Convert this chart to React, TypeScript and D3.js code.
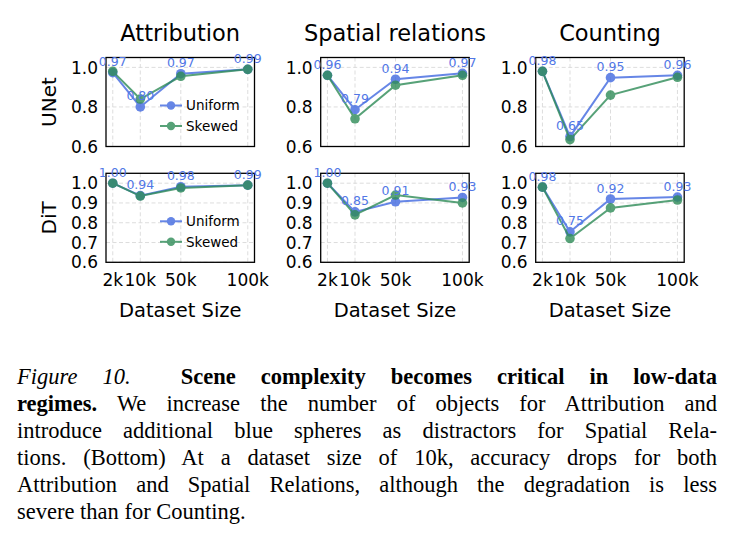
import React, { useLayoutEffect, useRef } from "react";
import * as d3 from "d3";

// ---- data ----
const COL_TITLES = ["Attribution", "Spatial relations", "Counting"];
const ROW_TITLES = ["UNet", "DiT"];
const X_LABELS = ["2k", "10k", "50k", "100k"];
const X_POS = [2, 22, 51.4, 100];
const SERIES = ["Uniform", "Skewed"];

const unetAttrUniform = [0.973, 0.8, 0.968, 0.99];
const unetAttrSkewed = [0.98, 0.84, 0.955, 0.99];
const unetSpatUniform = [0.96, 0.786, 0.94, 0.97];
const unetSpatSkewed = [0.96, 0.74, 0.91, 0.96];
const unetCountUniform = [0.98, 0.65, 0.948, 0.96];
const unetCountSkewed = [0.98, 0.635, 0.86, 0.95];
const ditAttrUniform = [1.0, 0.937, 0.982, 0.99];
const ditAttrSkewed = [1.0, 0.935, 0.976, 0.99];
const ditSpatUniform = [1.0, 0.855, 0.906, 0.928];
const ditSpatSkewed = [1.0, 0.84, 0.94, 0.9];
const ditCountUniform = [0.98, 0.754, 0.92, 0.93];
const ditCountSkewed = [0.98, 0.72, 0.875, 0.915];

const TOP_TICKS = [0.6, 0.8, 1.0];
const BOTTOM_TICKS = [0.6, 0.7, 0.8, 0.9, 1.0];

const CAPTION = [
  { parts: [{ t: "Figure 10.", s: "italic" }, { t: "  " }, { t: "Scene complexity becomes critical in low-data", s: "bold" }], justify: true },
  { parts: [{ t: "regimes.", s: "bold" }, { t: " We increase the number of objects for Attribution and" }], justify: true },
  { parts: [{ t: "introduce additional blue spheres as distractors for Spatial Rela-" }], justify: true },
  { parts: [{ t: "tions. (Bottom) At a dataset size of 10k, accuracy drops for both" }], justify: true },
  { parts: [{ t: "Attribution and Spatial Relations, although the degradation is less" }], justify: true },
  { parts: [{ t: "severe than for Counting." }], justify: false },
];

const PANELS = [
  [
    [unetAttrUniform, unetAttrSkewed],
    [unetSpatUniform, unetSpatSkewed],
    [unetCountUniform, unetCountSkewed],
  ],
  [
    [ditAttrUniform, ditAttrSkewed],
    [ditSpatUniform, ditSpatSkewed],
    [ditCountUniform, ditCountSkewed],
  ],
];

// ---- layout ----
const W = 739;
const H = 555;
const PANEL_LEFT = [106, 320.7, 535.7];
const PANEL_W = 148.5;
const PANEL_TOP = [57.5, 173.3];
const PANEL_H = 89;
const COLORS = ["#4169e1", "#2e8b57"];
const LABEL_COLOR = "#5177e6";
const SANS = "'DejaVu Sans', sans-serif";
const SERIF = "'Liberation Serif', 'Times New Roman', serif";
const CAP_LEFT = 17;
const CAP_RIGHT = 717;
const CAP_TOP = 384;
const CAP_STEP = 27;
const CAP_SIZE = 22.5;

function Panel({ row, col }: { row: number; col: number }) {
  const left = PANEL_LEFT[col];
  const top = PANEL_TOP[row];
  const x = d3.scaleLinear().domain([-2.9, 104.9]).range([left, left + PANEL_W]);
  const y = d3.scaleLinear().domain([0.6, 1.05]).range([top + PANEL_H, top]);
  const ticks = row === 0 ? TOP_TICKS : BOTTOM_TICKS;
  const data = PANELS[row][col];
  const line = d3
    .line<number>()
    .x((_, i) => x(X_POS[i]))
    .y((v) => y(v));
  return (
    <g>
      {ticks.map((t) => (
        <line key={"gy" + t} x1={left} x2={left + PANEL_W} y1={y(t)} y2={y(t)} stroke="#d9d9d9" strokeWidth={0.9} strokeDasharray="4,2.5" />
      ))}
      {X_POS.map((p, i) => (
        <line key={"gx" + i} x1={x(p)} x2={x(p)} y1={top} y2={top + PANEL_H} stroke="#d9d9d9" strokeWidth={0.9} strokeDasharray="4,2.5" />
      ))}
      {data.map((vals, si) => (
        <g key={si} opacity={0.8}>
          <path d={line(vals) || ""} fill="none" stroke={COLORS[si]} strokeWidth={2} />
          {vals.map((v, i) => (
            <circle key={i} cx={x(X_POS[i])} cy={y(v)} r={4.8} fill={COLORS[si]} />
          ))}
        </g>
      ))}
      <rect x={left} y={top} width={PANEL_W} height={PANEL_H} fill="none" stroke="#000" strokeWidth={1.3} />
      {data[0].map((v, i) => (
        <text key={"lb" + i} x={x(X_POS[i])} y={y(v) - 6.5} textAnchor="middle" fontFamily={SANS} fontSize={12.5} fill={LABEL_COLOR}>
          {v.toFixed(2)}
        </text>
      ))}
      {ticks.map((t) => (
        <text key={"ty" + t} x={left - 8} y={y(t)} dy="0.36em" textAnchor="end" fontFamily={SANS} fontSize={17} fill="#000">
          {t.toFixed(1)}
        </text>
      ))}
      {row === 0 && (
        <text x={left + PANEL_W / 2} y={41} textAnchor="middle" fontFamily={SANS} fontSize={22.5} fill="#000">
          {COL_TITLES[col]}
        </text>
      )}
      {row === 1 &&
        X_LABELS.map((lab, i) => (
          <text key={"tx" + i} x={x(X_POS[i])} y={top + PANEL_H + 24} textAnchor="middle" fontFamily={SANS} fontSize={17} fill="#000">
            {lab}
          </text>
        ))}
      {row === 1 && (
        <text x={left + PANEL_W / 2} y={317} textAnchor="middle" fontFamily={SANS} fontSize={19.5} fill="#000">
          Dataset Size
        </text>
      )}
      {col === 0 && (
        <text
          transform={`translate(${56},${top + PANEL_H / 2}) rotate(-90)`}
          textAnchor="middle"
          fontFamily={SANS}
          fontSize={20}
          fill="#000"
        >
          {ROW_TITLES[row]}
        </text>
      )}
      {col === 0 &&
        SERIES.map((s, si) => {
          const ly = top + 48 + si * 20.5;
          return (
            <g key={s}>
              <g opacity={0.8}>
                <line x1={left + 54} x2={left + 76} y1={ly} y2={ly} stroke={COLORS[si]} strokeWidth={2} />
                <circle cx={left + 65} cy={ly} r={4.2} fill={COLORS[si]} />
              </g>
              <text x={left + 80} y={ly} dy="0.36em" fontFamily={SANS} fontSize={13.5} fill="#000">
                {s}
              </text>
            </g>
          );
        })}
    </g>
  );
}

export default function App() {
  const capRefs = useRef<(SVGTextElement | null)[]>([]);
  useLayoutEffect(() => {
    CAPTION.forEach((ln, i) => {
      const el = capRefs.current[i];
      if (!el || !ln.justify) return;
      el.style.wordSpacing = "0px";
      const natural = el.getComputedTextLength();
      const text = ln.parts.map((p) => p.t).join("");
      const spaces = (text.match(/ /g) || []).length;
      if (spaces > 0) {
        const extra = (CAP_RIGHT - CAP_LEFT - natural) / spaces;
        el.style.wordSpacing = `${extra}px`;
      }
    });
  }, []);
  return (
    <svg width={W} height={H} style={{ position: "absolute", left: 0, top: 0, background: "#fff" }}>
      <rect x={0} y={0} width={W} height={H} fill="#fff" />
      {[0, 1].map((r) => [0, 1, 2].map((c) => <Panel key={`${r}-${c}`} row={r} col={c} />))}
      {CAPTION.map((ln, i) => (
        <text
          key={i}
          ref={(el) => {
            capRefs.current[i] = el;
          }}
          x={CAP_LEFT}
          y={CAP_TOP + i * CAP_STEP}
          fontFamily={SERIF}
          fontSize={CAP_SIZE}
          fill="#000"
          style={{ whiteSpace: "pre" }}
        >
          {ln.parts.map((p, j) => (
            <tspan key={j} fontStyle={p.s === "italic" ? "italic" : "normal"} fontWeight={p.s === "bold" ? "bold" : "normal"}>
              {p.t}
            </tspan>
          ))}
        </text>
      ))}
    </svg>
  );
}
